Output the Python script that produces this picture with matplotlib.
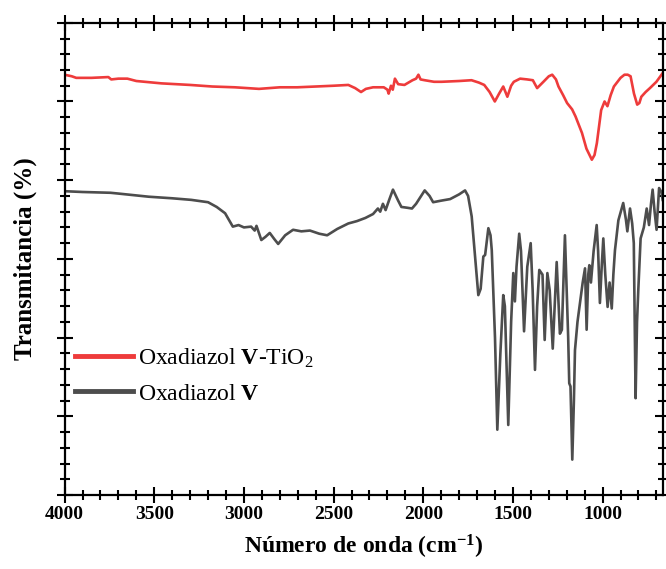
import matplotlib
matplotlib.use("Agg")
import matplotlib.pyplot as plt
from matplotlib.ticker import MultipleLocator

# Data (wavenumber in cm-1, transmittance in arbitrary offset units)
wn_dark = [4000, 3900, 3744, 3700, 3531, 3400, 3294, 3200, 3152, 3105, 3062, 3030, 3000, 2960,
           2940, 2930, 2903, 2880, 2856, 2830, 2809, 2770, 2726, 2680, 2632, 2580, 2536, 2480,
           2418, 2370, 2323, 2280, 2253, 2240, 2225, 2210, 2190, 2169, 2140, 2122, 2090, 2063,
           2040, 1992, 1965, 1945, 1900, 1850, 1800, 1767, 1750, 1730, 1710, 1693, 1680, 1665,
           1655, 1637, 1625, 1618, 1600, 1587, 1570, 1554, 1545, 1526, 1510, 1498, 1489, 1480,
           1465, 1455, 1438, 1420, 1401, 1390, 1377, 1365, 1353, 1335, 1323, 1308, 1295, 1278,
           1265, 1256, 1245, 1238, 1227, 1210, 1200, 1192, 1186, 1179, 1169, 1160, 1154, 1140,
           1126, 1111, 1098, 1089, 1080, 1074, 1065, 1050, 1033, 1025, 1015, 1005, 996, 985,
           972, 961, 949, 940, 931, 912, 885, 870, 862, 847, 835, 826, 816, 808, 801, 788,
           770, 754, 741, 730, 721, 710, 699, 685, 672, 665]
t_dark = [3.86, 3.85, 3.84, 3.83, 3.79, 3.77, 3.75, 3.72, 3.66, 3.58, 3.41, 3.43, 3.40, 3.41,
          3.36, 3.42, 3.24, 3.28, 3.33, 3.25, 3.19, 3.30, 3.37, 3.35, 3.36, 3.32, 3.30, 3.38,
          3.45, 3.48, 3.52, 3.57, 3.64, 3.60, 3.70, 3.62, 3.75, 3.88, 3.74, 3.66, 3.65, 3.64,
          3.70, 3.87, 3.80, 3.72, 3.74, 3.76, 3.82, 3.87, 3.80, 3.54, 3.00, 2.54, 2.62, 3.03,
          3.05, 3.39, 3.30, 3.11, 2.00, 0.83, 1.80, 2.54, 2.40, 0.89, 2.20, 2.82, 2.46, 2.90,
          3.32, 3.10, 2.08, 2.90, 3.20, 2.60, 1.59, 2.40, 2.86, 2.80, 1.97, 2.82, 2.60, 1.86,
          2.50, 2.96, 2.40, 2.05, 2.10, 3.30, 2.60, 2.01, 1.42, 1.38, 0.45, 1.20, 1.84, 2.20,
          2.44, 2.70, 2.88, 2.10, 2.80, 2.92, 2.70, 3.10, 3.43, 3.10, 2.44, 2.90, 3.26, 2.80,
          2.39, 2.70, 2.37, 2.80, 3.11, 3.49, 3.71, 3.50, 3.35, 3.64, 3.45, 3.20, 1.23, 2.20,
          2.60, 3.26, 3.40, 3.64, 3.43, 3.70, 3.88, 3.60, 3.37, 3.90, 3.85, 3.75]

wn_red = [4000, 3960, 3935, 3850, 3756, 3740, 3700, 3650, 3600, 3460, 3300, 3176, 3050, 2916,
          2800, 2703, 2600, 2500, 2418, 2380, 2347, 2320, 2280, 2220, 2200, 2193, 2180, 2170,
          2158, 2140, 2105, 2060, 2040, 2027, 2015, 1992, 1940, 1898, 1800, 1731, 1690, 1660,
          1630, 1601, 1577, 1554, 1531, 1510, 1495, 1460, 1420, 1389, 1365, 1330, 1300, 1281,
          1260, 1246, 1220, 1198, 1170, 1151, 1115, 1090, 1060, 1045, 1032, 1008, 989, 973,
          955, 937, 900, 878, 860, 844, 825, 807, 795, 784, 760, 736, 700, 665]
t_red = [5.34, 5.32, 5.30, 5.30, 5.31, 5.28, 5.29, 5.29, 5.26, 5.23, 5.21, 5.19, 5.18, 5.16,
         5.18, 5.18, 5.19, 5.20, 5.21, 5.17, 5.12, 5.16, 5.18, 5.18, 5.15, 5.10, 5.20, 5.15,
         5.29, 5.22, 5.21, 5.27, 5.29, 5.34, 5.28, 5.27, 5.25, 5.25, 5.26, 5.27, 5.24, 5.21,
         5.12, 5.00, 5.10, 5.19, 5.06, 5.20, 5.25, 5.29, 5.28, 5.27, 5.17, 5.25, 5.32, 5.34,
         5.28, 5.19, 5.08, 4.98, 4.90, 4.81, 4.60, 4.40, 4.26, 4.32, 4.47, 4.89, 5.00, 4.94,
         5.08, 5.19, 5.30, 5.34, 5.34, 5.32, 5.10, 4.96, 4.98, 5.06, 5.12, 5.17, 5.25, 5.36]

labels = ["Oxadiazol $\\mathbf{V}$-TiO$_2$", "Oxadiazol $\\mathbf{V}$"]

plt.rcParams['font.family'] = ['Liberation Serif', 'DejaVu Serif']
plt.rcParams['mathtext.fontset'] = 'custom'
plt.rcParams['mathtext.rm'] = 'Liberation Serif'
plt.rcParams['mathtext.bf'] = 'Liberation Serif:bold'
plt.rcParams['mathtext.it'] = 'Liberation Serif:italic'

fig = plt.figure(figsize=(6.66, 5.69), dpi=100)
ax = fig.add_axes([0.097, 0.130, 0.898, 0.830])

ax.plot(wn_red, t_red, color='#ee3b3b', linewidth=1.9, label=labels[0])
ax.plot(wn_dark, t_dark, color='#4d4d4d', linewidth=1.9, label=labels[1])

ax.set_xlim(4000, 665)
ax.set_ylim(0, 6)

ax.xaxis.set_major_locator(MultipleLocator(500))
ax.xaxis.set_minor_locator(MultipleLocator(100))
ax.yaxis.set_major_locator(MultipleLocator(1))
ax.yaxis.set_minor_locator(MultipleLocator(0.2))

ax.tick_params(which='both', direction='inout', top=True, right=True, width=1.5)
ax.tick_params(which='major', length=12)
ax.tick_params(which='minor', length=7)
ax.tick_params(axis='y', labelleft=False)
ax.tick_params(axis='x', labelsize=14, pad=2)
for lab in ax.get_xticklabels():
    lab.set_fontweight('bold')
for sp in ax.spines.values():
    sp.set_linewidth(1.6)

ax.set_xlabel("Número de onda (cm$^{\\mathbf{-1}}$)", fontsize=17, fontweight='bold', labelpad=7)
ax.set_ylabel("Transmitancia (%)", fontsize=18, fontweight='bold', labelpad=13)

leg = ax.legend(loc='center left', bbox_to_anchor=(0.017, 0.253), frameon=False, fontsize=17,
                handlelength=2.45, handletextpad=0.22, labelspacing=0.57, borderaxespad=0,
                borderpad=0)
for line in leg.get_lines():
    line.set_linewidth(3.5)

fig.savefig("out.png", dpi=100)
